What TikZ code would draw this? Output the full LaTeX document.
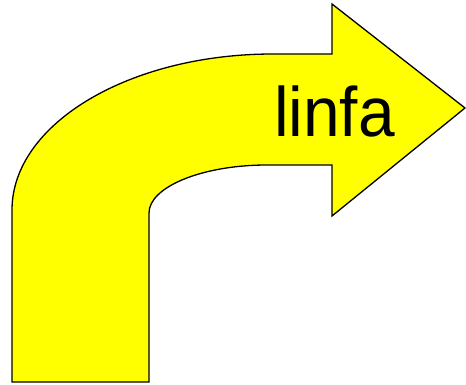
\documentclass[tikz,border=0pt]{standalone}
\usepackage{fontspec}
\setmainfont{Liberation Sans}
\definecolor{arrowyellow}{RGB}{255,255,0}
\begin{document}
\begin{tikzpicture}[x=1pt,y=-1pt,
  arrowbody/.style={fill=arrowyellow,draw=black,line width=1.3pt,line join=miter},
  lbl/.style={inner sep=0pt,anchor=base west,font=\fontsize{70}{70}\selectfont,xscale=0.94}]
\useasboundingbox (0,0) rectangle (466,385);
\draw[arrowbody] (12,382) -- (12,210)
  .. controls (12,124) and (129,54) .. (273,54)
  -- (332,54) -- (332,4) -- (465,108) -- (332,216) -- (332,165)
  -- (267,165)
  .. controls (202,165) and (149,187) .. (149,213)
  -- (149,382) -- cycle;
\node[lbl,text=black] (t) at (274,137) {linfa};
\end{tikzpicture}
\end{document}
